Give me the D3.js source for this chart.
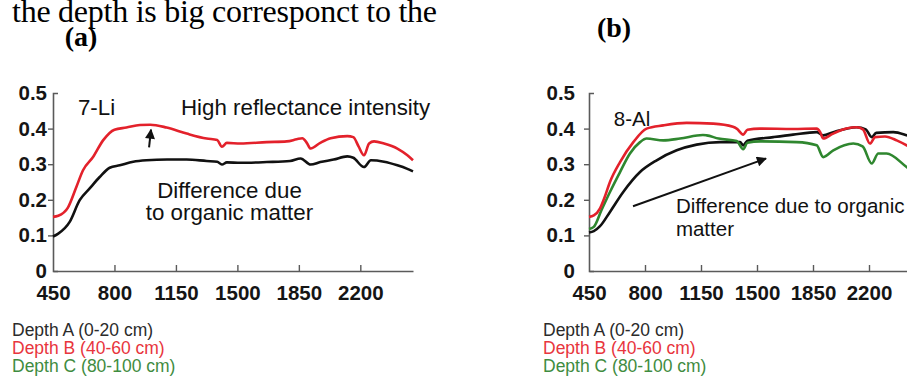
<!DOCTYPE html>
<html>
<head>
<meta charset="utf-8">
<script src="https://cdnjs.cloudflare.com/ajax/libs/d3/7.8.5/d3.min.js"></script>
<style>
  html, body { margin: 0; padding: 0; background: #fff; }
  svg { display: block; }
</style>
</head>
<body>
<script>
// Soil reflectance spectra (wavelength in nm, reflectance 0–1) by sampling depth.
const xTicks = [450, 800, 1150, 1500, 1850, 2200];
const yTicks = [0, 0.1, 0.2, 0.3, 0.4, 0.5];
const depthLabels = ["Depth A (0-20 cm)", "Depth B (40-60 cm)", "Depth C (80-100 cm)"];
const depthColors = ["#111111", "#e3212b", "#2f872f"];
const legendColors = ["#2b2b2b", "#e8353d", "#3f8c3f"];

// Profile 7-Li
const liDepthA = [[450,.097],[480,.105],[545,.138],[602,.199],[659,.232],[716,.264],[773,.29],[830,.297],[907,.307],[982,.311],[1100,.313],[1211,.313],[1325,.309],[1385,.307],[1412,.299],[1440,.305],[1518,.304],[1667,.306],[1800,.309],[1860,.316],[1917,.299],[1972,.306],[2048,.313],[2126,.322],[2160,.318],[2221,.292],[2260,.311],[2335,.307],[2411,.297],[2468,.287],[2500,.28]];
const liDepthB = [[450,.152],[480,.155],[535,.178],[583,.236],[621,.283],[678,.32],[735,.367],[800,.397],[868,.403],[945,.41],[1004,.411],[1097,.403],[1211,.386],[1325,.372],[1385,.368],[1412,.349],[1440,.36],[1518,.358],[1667,.362],[1781,.364],[1838,.37],[1870,.373],[1895,.36],[1917,.344],[1972,.36],[2031,.373],[2126,.379],[2160,.376],[2190,.35],[2221,.325],[2250,.358],[2278,.364],[2335,.358],[2411,.344],[2468,.325],[2500,.311]];

// Profile 8-Al
const alDepthA = [[450,.108],[480,.112],[519,.126],[581,.166],[664,.222],[769,.278],[873,.311],[998,.339],[1123,.355],[1269,.362],[1394,.362],[1414,.353],[1440,.366],[1602,.376],[1725,.383],[1873,.39],[1914,.381],[1977,.39],[2123,.404],[2180,.398],[2217,.376],[2245,.388],[2352,.39],[2435,.381],[2500,.37]];
const alDepthB = [[450,.152],[480,.156],[519,.176],[550,.21],[581,.25],[644,.306],[727,.362],[810,.4],[914,.409],[1060,.416],[1227,.414],[1350,.405],[1373,.4],[1414,.383],[1440,.397],[1519,.4],[1725,.399],[1873,.4],[1895,.39],[1914,.372],[1972,.385],[2058,.4],[2123,.404],[2162,.398],[2206,.358],[2238,.376],[2300,.378],[2373,.367],[2435,.353],[2500,.335]];
const alDepthC = [[450,.118],[480,.124],[527,.17],[581,.222],[644,.278],[706,.33],[769,.362],[810,.372],[914,.367],[1019,.372],[1162,.382],[1185,.381],[1260,.372],[1373,.365],[1414,.342],[1440,.36],[1520,.364],[1748,.362],[1873,.353],[1914,.32],[1977,.339],[2102,.358],[2160,.35],[2217,.302],[2258,.33],[2310,.33],[2435,.292],[2500,.27]];

const width = 907, height = 381;
const svg = d3.select("body").append("svg").attr("width", width).attr("height", height);

svg.append("defs").append("marker")
  .attr("id", "head").attr("viewBox", "0 0 10 10").attr("refX", 9).attr("refY", 5)
  .attr("markerUnits", "userSpaceOnUse").attr("markerWidth", 11).attr("markerHeight", 10)
  .attr("orient", "auto")
  .append("path").attr("d", "M0,0 L10,5 L0,10 z").attr("fill", "#111");

// Running text line above the figure
svg.append("text")
  .attr("x", 12).attr("y", 22)
  .attr("font-family", "'Liberation Serif', 'Times New Roman', serif")
  .attr("font-size", 32).attr("fill", "#000")
  .attr("textLength", 425).attr("lengthAdjust", "spacing")
  .text("the depth is big corresponct to the");

const sans = "'Liberation Sans', Arial, Helvetica, sans-serif";

const panels = [
  {
    tag: "(a)", tagX: 81, tagY: 46,
    x0: 53, x1: 413, labelGap: 1, font: 22.3,
    series: [liDepthA, liDepthB], colors: [depthColors[0], depthColors[1]],
    name: "7-Li", nameAt: [592, 0.437],
    notes: [
      { text: "High reflectance intensity", at: [1179, 0.437], anchor: "start" },
      { text: "Difference due", at: [1455, 0.204], anchor: "middle" },
      { text: "to organic matter", at: [1455, 0.143], anchor: "middle" }
    ],
    arrow: [[997, 0.347], [1008, 0.397]],
    legendX: 12
  },
  {
    tag: "(b)", tagX: 614, tagY: 37,
    x0: 589, x1: 917, labelGap: 9, font: 20.5,
    series: [alDepthA, alDepthC, alDepthB], colors: [depthColors[0], depthColors[2], depthColors[1]],
    name: "8-Al", nameAt: [605, 0.408],
    notes: [
      { text: "Difference due to organic", at: [993, 0.162], anchor: "start" },
      { text: "matter", at: [993, 0.098], anchor: "start" }
    ],
    arrow: [[725, 0.182], [1556, 0.316]],
    legendX: 543
  }
];

panels.forEach(p => {
  const x = d3.scaleLinear().domain([450, 2500]).range([p.x0, p.x1]);
  const y = d3.scaleLinear().domain([0, 0.5]).range([271, 93]);
  const g = svg.append("g");

  // panel tag
  g.append("text").attr("x", p.tagX).attr("y", p.tagY)
    .attr("text-anchor", "middle")
    .attr("font-family", "'Liberation Serif', 'Times New Roman', serif")
    .attr("font-weight", "bold").attr("font-size", 28).attr("fill", "#000")
    .text(p.tag);

  // y axis
  const yAxis = g.append("g").attr("transform", `translate(${p.x0},0)`)
    .call(d3.axisLeft(y).tickValues(yTicks)
      .tickFormat(d => d === 0 ? "0" : d3.format(".1f")(d))
      .tickSizeInner(5).tickSizeOuter(-5).tickPadding(p.labelGap));
  yAxis.selectAll(".tick line").filter(d => d === 0 || d === 0.5).remove();

  // x axis
  const xAxis = g.append("g").attr("transform", "translate(0,271)")
    .call(d3.axisBottom(x).tickValues(xTicks).tickFormat(d3.format("d"))
      .tickSizeInner(-6).tickSizeOuter(0));
  xAxis.selectAll(".tick line").filter(d => d === 450).remove();
  xAxis.selectAll(".tick text").attr("y", 29).attr("dy", 0);

  [yAxis, xAxis].forEach(a => {
    a.select(".domain").attr("stroke", "#5a5a5a").attr("stroke-width", 1.6);
    a.selectAll(".tick line").attr("stroke", "#5a5a5a").attr("stroke-width", 1.4);
    a.selectAll(".tick text").attr("font-family", sans).attr("font-weight", "bold")
      .attr("font-size", 20.5).attr("fill", "#151515");
  });

  // spectra
  const line = d3.line().x(d => x(d[0])).y(d => y(d[1])).curve(d3.curveMonotoneX);
  p.series.forEach((s, i) => {
    g.append("path").datum(s).attr("d", line)
      .attr("fill", "none").attr("stroke", p.colors[i])
      .attr("stroke-width", 2.6).attr("stroke-linejoin", "round");
  });

  // annotations
  g.append("text").attr("x", x(p.nameAt[0])).attr("y", y(p.nameAt[1]))
    .attr("font-family", sans).attr("font-size", p.font).attr("fill", "#111")
    .text(p.name);
  p.notes.forEach(n => {
    g.append("text").attr("x", x(n.at[0])).attr("y", y(n.at[1]))
      .attr("text-anchor", n.anchor)
      .attr("font-family", sans).attr("font-size", p.font).attr("fill", "#111")
      .text(n.text);
  });
  g.append("line")
    .attr("x1", x(p.arrow[0][0])).attr("y1", y(p.arrow[0][1]))
    .attr("x2", x(p.arrow[1][0])).attr("y2", y(p.arrow[1][1]))
    .attr("stroke", "#111").attr("stroke-width", 2)
    .attr("marker-end", "url(#head)");

  // legend
  depthLabels.forEach((t, i) => {
    g.append("text").attr("x", p.legendX).attr("y", 336 + i * 18)
      .attr("font-family", sans).attr("font-size", 17.5)
      .attr("fill", legendColors[i])
      .text(t);
  });
});
</script>
</body>
</html>
